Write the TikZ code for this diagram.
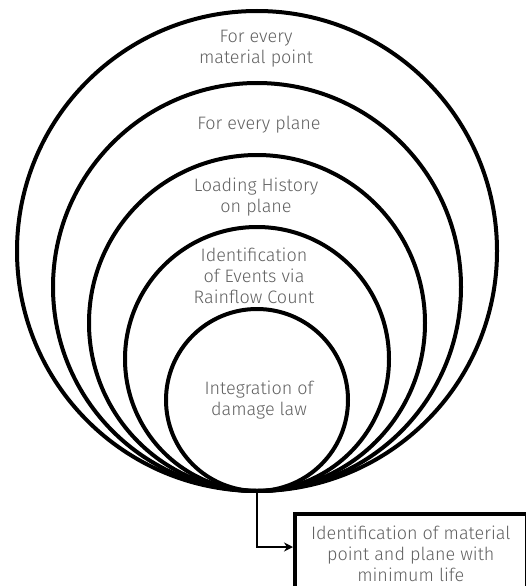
\documentclass[tikz,border=0pt]{standalone}
\usepackage{fontspec}
\setmainfont{Fira Sans}[UprightFont=* Light]
\usetikzlibrary{arrows.meta}
\tikzset{
  ring/.style={circle,draw,line width=4pt,inner sep=0pt},
  lbl/.style={align=center,text=black!62,inner sep=0pt,font=\fontsize{18}{21}\selectfont},
  flow/.style={line width=2pt,-{Stealth[length=9pt,width=9pt]}},
}
\begin{document}
\begin{tikzpicture}[x=1pt,y=-1pt]
\def\XC{257}
\def\YB{491}
\useasboundingbox (0,0) rectangle (525,586);

\foreach \r/\n in {240/1,204/2,168/3,132/4,91/5} {
  \node[ring,minimum size={2*\r pt}] (C\n) at (\XC,\YB-\r) {};
};

\node[lbl] (L1) at (256,49) {For every\\material point};
\node[lbl] (L2) at (259,125) {For every plane};
\node[lbl] (L3) at (256,197) {Loading History\\on plane};
\node[lbl] (L4) at (254,276) {Identification\\of Events via\\Rainflow Count};
\node[lbl] (L5) at (259,400) {Integration of\\damage law};

\node[lbl,draw=black,line width=3.5pt,anchor=north west,minimum width=232pt,minimum height=80pt]
  (Res) at (293,512) {Identification of material\\point and plane with\\minimum life};

\draw[flow] (C5.south) |- ([yshift=-35pt]Res.north west);
\end{tikzpicture}
\end{document}
